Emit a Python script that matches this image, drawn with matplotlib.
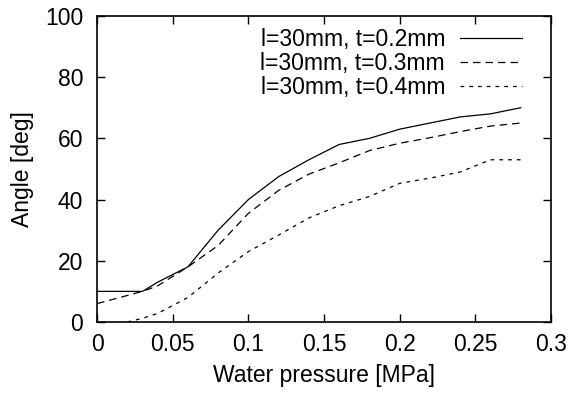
import matplotlib.pyplot as plt

plt.rcParams['font.family'] = ['Liberation Sans', 'DejaVu Sans']
plt.rcParams['font.size'] = 16.5

# pressure [MPa]
pressure = [0, 0.03, 0.04, 0.06, 0.08, 0.1, 0.12, 0.14, 0.16, 0.18, 0.2, 0.22, 0.24, 0.26, 0.28]
pressure_04 = [0.02, 0.03, 0.04, 0.06, 0.08, 0.1, 0.12, 0.14, 0.16, 0.18, 0.2, 0.22, 0.24, 0.26, 0.28]

# angle [deg]
angle_02 = [10, 10, 13, 18, 30, 40, 47.5, 53, 58, 60, 63, 65, 67, 68, 70]
angle_03 = [6, 10, 11.8, 18, 25, 35.5, 43, 48.3, 52, 56, 58.4, 60.2, 62.2, 64, 65]
angle_04 = [0, 1.2, 2.8, 8, 16, 23, 28.4, 34, 38, 41, 45.3, 47, 49, 53, 53]

fig = plt.figure(figsize=(5.68, 3.98), dpi=100)
ax = fig.add_axes([0.171, 0.191, 0.799, 0.769])

ax.plot(pressure, angle_02, color='black', lw=0.9, linestyle='-', label='l=30mm, t=0.2mm')
ax.plot(pressure, angle_03, color='black', lw=0.9, linestyle=(0, (6, 4)), label='l=30mm, t=0.3mm')
ax.plot(pressure_04, angle_04, color='black', lw=0.9, linestyle=(0, (3, 4)), label='l=30mm, t=0.4mm')

ax.set_xlim(0, 0.3)
ax.set_ylim(0, 100)
ax.set_xticks([0, 0.05, 0.1, 0.15, 0.2, 0.25, 0.3])
ax.set_xticklabels(['0', '0.05', '0.1', '0.15', '0.2', '0.25', '0.3'])
ax.set_yticks([0, 20, 40, 60, 80, 100])
ax.tick_params(direction='in', top=True, right=True, length=6, width=1)
ax.tick_params(axis='x', pad=8)
ax.tick_params(axis='y', pad=10)
for s in ax.spines.values():
    s.set_linewidth(1.2)

ax.set_xlabel('Water pressure [MPa]', labelpad=6)
ax.set_ylabel('Angle [deg]', labelpad=8)

ax.legend(loc='upper right', bbox_to_anchor=(0.956, 0.99), borderaxespad=0,
          frameon=False, markerfirst=False, handlelength=2.7,
          labelspacing=0.05, handletextpad=0.65)

fig.savefig('out.png', dpi=100)
